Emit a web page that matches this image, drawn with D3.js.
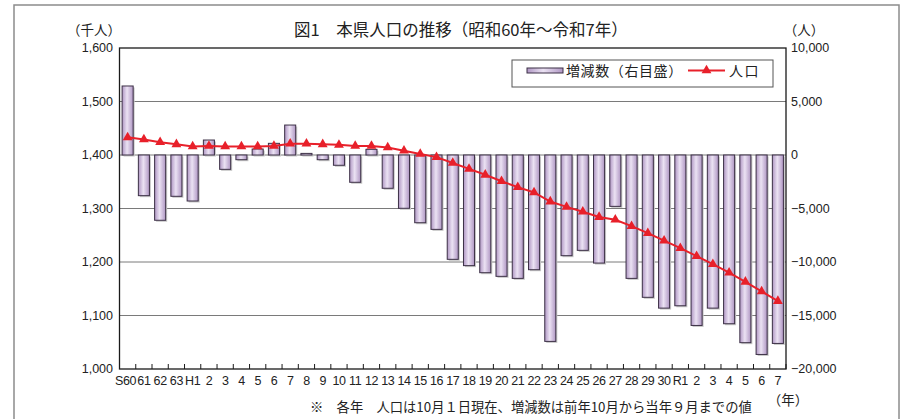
<!DOCTYPE html>
<html>
<head>
<meta charset="utf-8">
<script src="https://cdn.jsdelivr.net/npm/d3@7"></script>
<style>
    body { margin: 0; background: #fff; }
    text { font-family: "Liberation Sans", Arial, "Noto Sans CJK JP", sans-serif; fill: #222; }
    .jp { font-family: "Noto Sans CJK JP", sans-serif; }
</style>
</head>
<body>
<svg id="chart"></svg>
<script>
const years = ['S60', '61', '62', '63', 'H1', '2', '3', '4', '5', '6', '7', '8', '9', '10',
    '11', '12', '13', '14', '15', '16', '17', '18', '19', '20', '21', '22', '23', '24', '25',
    '26', '27', '28', '29', '30', 'R1', '2', '3', '4', '5', '6', '7'];

// 増減数 (人)
const change = [6450, -3800, -6100, -3860, -4300, 1400, -1340, -440, 560, 1090, 2800, 150,
    -440, -960, -2550, 530, -3110, -4980, -6330, -6950, -9750, -10340, -11000, -11340,
    -11530, -10720, -17420, -9410, -8910, -10100, -4800, -11530, -13300, -14310, -14090,
    -15930, -14310, -15770, -17540, -18640, -17610];

// 人口 (千人)
const population = [1433, 1429, 1424, 1420, 1416, 1417, 1416, 1416, 1416, 1417, 1421, 1421,
    1420, 1419, 1417, 1417, 1414, 1408, 1402, 1396, 1385, 1374, 1363, 1351, 1340, 1330,
    1313, 1303, 1294, 1284, 1279, 1267, 1254, 1240, 1226, 1211, 1196, 1180, 1163, 1145, 1127];

const leftTicks = [1000, 1100, 1200, 1300, 1400, 1500, 1600];
const rightTicks = [-20000, -15000, -10000, -5000, 0, 5000, 10000];

const width = 904, height = 419;
const plot = { left: 119.5, right: 786, top: 48, bottom: 369 };

const svg = d3.select('#chart').attr('width', width).attr('height', height);

svg.append('rect')
    .attr('x', 14).attr('y', 5).attr('width', 885).attr('height', 430)
    .attr('fill', '#fff').attr('stroke', '#8c8c8c').attr('stroke-width', 1.5);

const defs = svg.append('defs');
const grad = defs.append('linearGradient').attr('id', 'barFill')
    .attr('x1', '0%').attr('x2', '100%').attr('y1', '0%').attr('y2', '0%');
grad.append('stop').attr('offset', '0%').attr('stop-color', '#af96c3');
grad.append('stop').attr('offset', '45%').attr('stop-color', '#ebe2f3');
grad.append('stop').attr('offset', '100%').attr('stop-color', '#af96c3');

const xScale = d3.scaleBand()
    .domain(d3.range(years.length))
    .range([plot.left, plot.right])
    .paddingInner(0.32)
    .paddingOuter(0.16);

const yLeft = d3.scaleLinear().domain([1000, 1600]).range([plot.bottom, plot.top]);
const yRight = d3.scaleLinear().domain([-20000, 10000]).range([plot.bottom, plot.top]);

// grid lines
svg.append('g')
    .selectAll('line')
    .data(leftTicks.slice(1, -1))
    .join('line')
    .attr('x1', plot.left).attr('x2', plot.right)
    .attr('y1', d => yLeft(d)).attr('y2', d => yLeft(d))
    .attr('stroke', '#7a7a7a').attr('stroke-width', 1);

// bars
const bars = svg.append('g');
bars.selectAll('rect.shadow')
    .data(change)
    .join('rect')
    .attr('class', 'shadow')
    .attr('x', (d, i) => xScale(i) + 1.5)
    .attr('y', d => Math.min(yRight(d), yRight(0)) + 1.5)
    .attr('width', xScale.bandwidth())
    .attr('height', d => Math.abs(yRight(d) - yRight(0)))
    .attr('fill', '#c8c8c8');
bars.selectAll('rect.bar')
    .data(change)
    .join('rect')
    .attr('class', 'bar')
    .attr('x', (d, i) => xScale(i))
    .attr('y', d => Math.min(yRight(d), yRight(0)))
    .attr('width', xScale.bandwidth())
    .attr('height', d => Math.abs(yRight(d) - yRight(0)))
    .attr('fill', 'url(#barFill)')
    .attr('stroke', '#3c3046').attr('stroke-width', 1);

// plot frame
svg.append('rect')
    .attr('x', plot.left).attr('y', plot.top)
    .attr('width', plot.right - plot.left).attr('height', plot.bottom - plot.top)
    .attr('fill', 'none').attr('stroke', '#1a1a1a').attr('stroke-width', 1.3);

// bottom ticks (inward, on category boundaries)
svg.append('g')
    .selectAll('line')
    .data(d3.range(years.length + 1))
    .join('line')
    .attr('x1', i => plot.left + i * (plot.right - plot.left) / years.length)
    .attr('x2', i => plot.left + i * (plot.right - plot.left) / years.length)
    .attr('y1', plot.bottom).attr('y2', plot.bottom - 5)
    .attr('stroke', '#1a1a1a').attr('stroke-width', 1);

// population line
const cx = i => xScale(i) + xScale.bandwidth() / 2;
const line = d3.line().x((d, i) => cx(i)).y(d => yLeft(d));
svg.append('path')
    .datum(population)
    .attr('d', line)
    .attr('fill', 'none').attr('stroke', '#e8202a').attr('stroke-width', 2);
const tri = d3.symbol().type(d3.symbolTriangle).size(42);
svg.append('g')
    .selectAll('path')
    .data(population)
    .join('path')
    .attr('d', tri)
    .attr('transform', (d, i) => `translate(${cx(i)}, ${yLeft(d)})`)
    .attr('fill', '#e8202a');

// axis labels
const fmt = d3.format(',');
svg.append('g')
    .selectAll('text')
    .data(leftTicks)
    .join('text')
    .attr('x', 113).attr('y', d => yLeft(d))
    .attr('dy', '0.35em').attr('text-anchor', 'end')
    .attr('font-size', 12.5)
    .text(d => fmt(d));
svg.append('g')
    .selectAll('text')
    .data(rightTicks)
    .join('text')
    .attr('x', 791).attr('y', d => yRight(d))
    .attr('dy', '0.35em').attr('text-anchor', 'start')
    .attr('font-size', 12.5)
    .text(d => d < 0 ? '\u2212' + fmt(-d) : fmt(d));
svg.append('g')
    .selectAll('text')
    .data(years)
    .join('text')
    .attr('x', (d, i) => cx(i) - (i === 0 ? 2 : 0)).attr('y', 385)
    .attr('text-anchor', 'middle')
    .attr('font-size', 12.5)
    .attr('letter-spacing', -0.4)
    .text(d => d);

svg.append('text').attr('class', 'jp')
    .attr('x', 94).attr('y', 35).attr('text-anchor', 'middle')
    .attr('font-size', 13.5).text('（千人）');
svg.append('text').attr('class', 'jp')
    .attr('x', 804).attr('y', 35).attr('text-anchor', 'middle')
    .attr('font-size', 13.5).text('（人）');
svg.append('text').attr('class', 'jp')
    .attr('x', 788).attr('y', 404.5).attr('text-anchor', 'middle')
    .attr('font-size', 13.5).text('（年）');

svg.append('text').attr('class', 'jp')
    .attr('x', 294).attr('y', 36)
    .attr('font-size', 16.5).text('図1　本県人口の推移（昭和60年～令和7年）');

svg.append('text').attr('class', 'jp')
    .attr('x', 310).attr('y', 412)
    .attr('font-size', 13.3).text('※　各年　人口は10月１日現在、増減数は前年10月から当年９月までの値');

// legend
const legend = svg.append('g');
legend.append('rect')
    .attr('x', 512).attr('y', 60).attr('width', 261).attr('height', 27)
    .attr('fill', '#fff').attr('stroke', '#555').attr('stroke-width', 1);
legend.append('rect')
    .attr('x', 527).attr('y', 68).attr('width', 36).attr('height', 5)
    .attr('fill', 'url(#barFill)').attr('stroke', '#3c3046').attr('stroke-width', 1);
legend.append('text').attr('class', 'jp')
    .attr('x', 566).attr('y', 76)
    .attr('font-size', 14).attr('letter-spacing', 0.6).text('増減数（右目盛）');
legend.append('line')
    .attr('x1', 688).attr('x2', 725).attr('y1', 70.5).attr('y2', 70.5)
    .attr('stroke', '#e8202a').attr('stroke-width', 2);
legend.append('path')
    .attr('d', tri).attr('transform', 'translate(706.5, 70.5)').attr('fill', '#e8202a');
legend.append('text').attr('class', 'jp')
    .attr('x', 729).attr('y', 76)
    .attr('font-size', 14).attr('letter-spacing', 1.5).text('人口');
</script>
</body>
</html>
